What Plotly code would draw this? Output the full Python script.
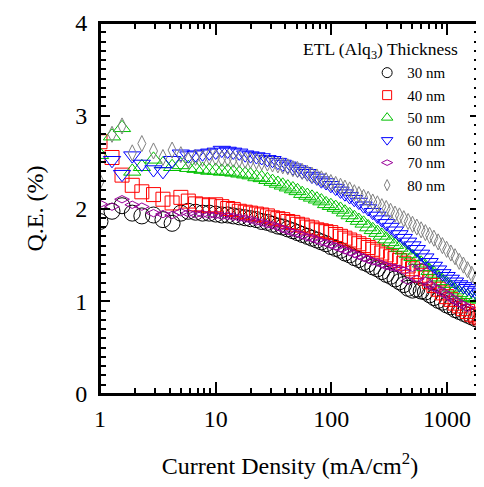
import plotly.graph_objects as go

# Current density (mA/cm^2)
J = [1.0, 1.27, 1.55, 1.9, 2.3, 2.9, 3.5, 4.2, 5.0, 5.8,
     6.7, 7.7, 8.8, 10, 11.3, 12.7, 14.2, 16, 18, 20,
     22.5, 25, 28, 31, 34.5, 38, 42, 46.5, 51, 56,
     62, 68, 75, 82, 90, 99, 109, 120, 131, 144,
     158, 173, 190, 208, 228, 250, 273, 298, 325, 355,
     388, 423, 461, 503, 548, 597, 650, 707, 770, 838,
     912, 992, 1079, 1173, 1275, 1386, 1506, 1636, 1777, 1930]

qe_30 = [1.86, 1.97, 2.03, 1.95, 1.92, 1.93, 1.88, 1.84, 1.95, 1.97,
         1.96, 1.95, 1.95, 1.94, 1.93, 1.93, 1.92, 1.91, 1.90, 1.89,
         1.88, 1.86, 1.85, 1.83, 1.81, 1.80, 1.78, 1.76, 1.74, 1.72,
         1.70, 1.68, 1.66, 1.64, 1.62, 1.59, 1.57, 1.55, 1.52, 1.50,
         1.47, 1.45, 1.42, 1.40, 1.37, 1.35, 1.32, 1.29, 1.27, 1.24,
         1.21, 1.18, 1.14, 1.12, 1.13, 1.11, 1.10, 1.07, 1.04, 1.01,
         0.99, 0.96, 0.94, 0.91, 0.89, 0.87, 0.85, 0.83, 0.81, 0.79]

qe_40 = [2.72, 2.55, 2.36, 2.25, 2.18, 2.15, 2.10, 2.06, 2.12, 2.08,
         2.05, 2.04, 2.03, 2.04, 2.02, 2.00, 1.99, 1.97, 1.96, 1.95,
         1.94, 1.93, 1.92, 1.90, 1.89, 1.88, 1.86, 1.85, 1.83, 1.82,
         1.80, 1.79, 1.77, 1.76, 1.75, 1.74, 1.72, 1.70, 1.68, 1.66,
         1.64, 1.62, 1.60, 1.58, 1.56, 1.54, 1.52, 1.50, 1.48, 1.46,
         1.44, 1.41, 1.38, 1.35, 1.32, 1.28, 1.25, 1.21, 1.17, 1.13,
         1.09, 1.05, 1.02, 0.98, 0.95, 0.92, 0.89, 0.86, 0.84, 0.82]

qe_50 = [2.58, 2.78, 2.87, 2.40, 2.45, 2.53, 2.48, 2.45, 2.47, 2.44,
         2.43, 2.42, 2.41, 2.41, 2.40, 2.40, 2.39, 2.38, 2.37, 2.36,
         2.34, 2.33, 2.31, 2.29, 2.27, 2.25, 2.23, 2.21, 2.19, 2.16,
         2.14, 2.12, 2.10, 2.08, 2.05, 2.03, 2.01, 1.99, 1.96, 1.93,
         1.90, 1.87, 1.84, 1.80, 1.77, 1.74, 1.71, 1.67, 1.64, 1.61,
         1.58, 1.55, 1.51, 1.48, 1.44, 1.41, 1.37, 1.33, 1.30, 1.26,
         1.22, 1.19, 1.15, 1.12, 1.09, 1.07, 1.05, 1.04, 1.03, 1.02]

qe_60 = [None, 2.52, 2.37, 2.57, 2.48, 2.42, 2.40, 2.52, 2.59, 2.57,
         2.58, 2.59, 2.60, 2.61, 2.63, 2.62, 2.61, 2.60, 2.58, 2.57,
         2.56, 2.55, 2.53, 2.52, 2.50, 2.48, 2.46, 2.44, 2.42, 2.40,
         2.38, 2.35, 2.33, 2.30, 2.28, 2.25, 2.22, 2.19, 2.16, 2.13,
         2.10, 2.07, 2.03, 2.00, 1.96, 1.92, 1.88, 1.84, 1.80, 1.76,
         1.72, 1.68, 1.64, 1.60, 1.56, 1.51, 1.47, 1.42, 1.38, 1.34,
         1.30, 1.27, 1.24, 1.21, 1.18, 1.16, 1.14, 1.12, 1.10, 1.08]

qe_70 = [2.05, 2.02, 2.10, 2.04, 2.02, 1.95, 1.94, 1.93, 1.96, 1.95,
         1.94, 1.94, 1.93, 1.93, 1.92, 1.92, 1.91, 1.90, 1.89, 1.88,
         1.86, 1.85, 1.83, 1.82, 1.80, 1.78, 1.76, 1.74, 1.73, 1.71,
         1.69, 1.68, 1.66, 1.64, 1.63, 1.61, 1.59, 1.57, 1.55, 1.53,
         1.51, 1.49, 1.47, 1.45, 1.43, 1.42, 1.40, 1.38, 1.37, 1.36,
         1.35, 1.33, 1.22, 1.36, 1.24, 1.37, 1.22, 1.18, 1.15, 1.13,
         1.10, 1.07, 1.04, 1.01, 0.98, 0.96, 0.93, None, None, None]

qe_80 = [2.29, 2.80, 2.89, 2.60, 2.70, 2.62, 2.55, 2.63, 2.58, 2.52,
         2.55, 2.54, 2.56, 2.55, 2.54, 2.54, 2.53, 2.53, 2.52, 2.52,
         2.51, 2.50, 2.49, 2.48, 2.47, 2.46, 2.45, 2.43, 2.42, 2.40,
         2.38, 2.36, 2.34, 2.32, 2.30, 2.28, 2.26, 2.24, 2.22, 2.20,
         2.17, 2.15, 2.12, 2.10, 2.07, 2.05, 2.02, 2.00, 1.97, 1.94,
         1.92, 1.89, 1.86, 1.83, 1.80, 1.77, 1.74, 1.71, 1.68, 1.64,
         1.60, 1.56, 1.52, 1.48, 1.43, 1.39, 1.34, 1.29, 1.24, 1.19]

series_names = ["30 nm", "40 nm", "50 nm", "60 nm", "70 nm", "80 nm"]
series_values = [qe_30, qe_40, qe_50, qe_60, qe_70, qe_80]
colors = ["#000000", "#ff0000", "#00c000", "#0000ff", "#990099", "#808080"]
symbols = ["circle-open", "square-open", "triangle-up-open",
           "triangle-down-open", "diamond-wide-open", "diamond-tall-open"]
sizes = [16, 14, 15, 15, 10.5, 11.5]
legend_sizes = [10, 9, 10, 10, 8, 8]

half_tickvals = [0.5, 1.5, 2.5, 3.5]

FONT = "Liberation Serif, Times New Roman, serif"

fig = go.Figure()
for name, vals, c, s, sz in zip(series_names, series_values, colors, symbols, sizes):
    fig.add_trace(go.Scatter(
        x=J, y=vals, mode="markers", name=name, showlegend=False,
        marker=dict(symbol=s, size=sz, color=c, line=dict(width=1, color=c)),
    ))
for name, c, s, sz in zip(series_names, colors, symbols, legend_sizes):
    fig.add_trace(go.Scatter(
        x=[None], y=[None], mode="markers", name=name, showlegend=True,
        marker=dict(symbol=s, size=sz, color=c, line=dict(width=1, color=c)),
    ))

axis_common = dict(
    showline=True, linewidth=2, linecolor="black", mirror="ticks",
    ticks="inside", tickcolor="black", tickwidth=1.5,
    showgrid=False, zeroline=False, ticklabeloverflow="allow",
    tickfont=dict(family=FONT, size=24, color="black"),
)

fig.update_xaxes(
    type="log", range=[0, 3.285],
    tickmode="linear", tick0=0, dtick=1, exponentformat="none",
    ticklen=12,
    minor=dict(dtick="D1", ticks="inside", ticklen=6, tickwidth=1.5, tickcolor="black"),
    title=dict(text="Current Density (mA/cm<sup>2</sup>)",
               font=dict(family=FONT, size=24, color="black"), standoff=26),
    ticklabelstandoff=2,
    **axis_common,
)
fig.update_yaxes(
    range=[0, 4],
    tickmode="linear", tick0=0, dtick=1,
    ticklen=10,
    minor=dict(dtick=0.1, tick0=0, ticks="inside", ticklen=6, tickwidth=1.5, tickcolor="black"),
    title=dict(text="Q.E. (%)", font=dict(family=FONT, size=24, color="black"), standoff=25),
    ticklabelstandoff=6,
    **axis_common,
)

# overlay axis carrying the longer half-unit ticks
fig.update_layout(yaxis2=dict(
    overlaying="y", anchor="x", side="left", range=[0, 4],
    tickmode="array", tickvals=half_tickvals, showticklabels=False,
    ticks="inside", ticklen=10, tickwidth=1.5, tickcolor="black",
    mirror="ticks", showline=False, showgrid=False, zeroline=False,
))

# plot frame
fig.add_shape(type="rect", xref="paper", yref="paper", x0=0, y0=0, x1=1, y1=1,
              line=dict(color="black", width=2), fillcolor="rgba(0,0,0,0)", layer="above")

fig.add_annotation(
    text="ETL (Alq<sub>3</sub>) Thickness", xref="paper", yref="paper",
    x=0.947, y=0.925, xanchor="right", yanchor="middle", showarrow=False,
    font=dict(family=FONT, size=17.5, color="black"),
)

fig.update_layout(
    width=476, height=479,
    margin=dict(l=92, r=2, t=12, b=93),
    paper_bgcolor="white", plot_bgcolor="white",
    showlegend=True,
    legend=dict(x=0.703, y=0.91, xanchor="left", yanchor="top",
                bgcolor="rgba(0,0,0,0)", borderwidth=0,
                font=dict(family=FONT, size=15, color="black"),
                itemsizing="trace"),
)

fig.write_html("out.html")
